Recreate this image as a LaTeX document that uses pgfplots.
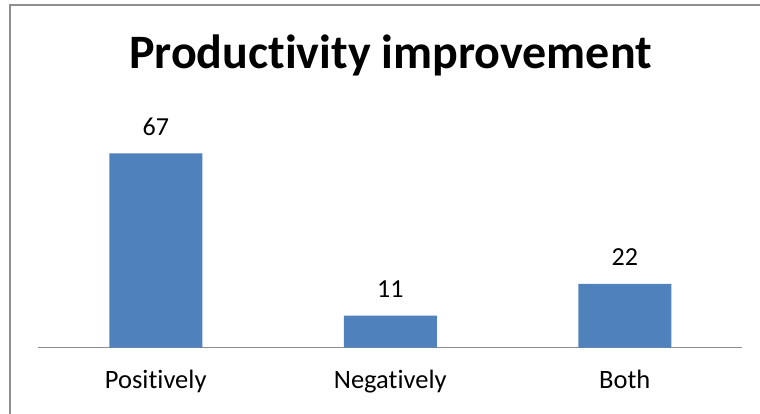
\documentclass[border=0pt]{standalone}
\usepackage{pgfplots}
\pgfplotsset{compat=1.18}
\usepackage{fontspec}
\setmainfont{Carlito}[Ligatures=NoCommon]
\definecolor{barblue}{HTML}{4F81BD}
\definecolor{framegray}{HTML}{8E8E8E}
\definecolor{axisgray}{HTML}{8C8C8C}
\begin{document}
\begin{tikzpicture}[x=1pt,y=1pt]
\useasboundingbox (0,0) rectangle (760,413);
% chart area frame: a grey panel covered by a white one, leaving the left and top edges
\begin{scope}
  \clip (0,0) rectangle (760,413);
  \fill[framegray] (9,-10) rectangle (780,409);
  \fill[white] (11,-10) rectangle (780,407);
\end{scope}
\node[font=\fontsize{48}{54}\selectfont\bfseries, anchor=base] at (390.5,344) {Productivity improvement};
\begin{axis}[
  scale only axis,
  width=703.5pt, height=231.7pt,
  at={(38.5pt,65.5pt)}, anchor=south west,
  xmin=-0.5, xmax=2.5, ymin=0, ymax=80,
  hide y axis,
  axis x line*=bottom,
  x axis line style={-, draw=axisgray, line width=1.5pt},
  xtick={0,1,2},
  xticklabels={Positively, Negatively, Both},
  major tick length=0pt,
  xticklabel style={anchor=base, yshift=-40.5pt, font=\fontsize{26.5}{30}\selectfont},
  /pgf/number format/assume math mode=true,
  ybar, bar width=93pt, bar shift=0pt,
  nodes near coords,
  nodes near coords style={anchor=base, yshift=18pt, font=\fontsize{26}{30}\selectfont, text=black},
  clip=false,
]
\addplot[fill=barblue, draw=none] coordinates {(0,67) (1,11) (2,22)};
\end{axis}
\end{tikzpicture}
\end{document}
